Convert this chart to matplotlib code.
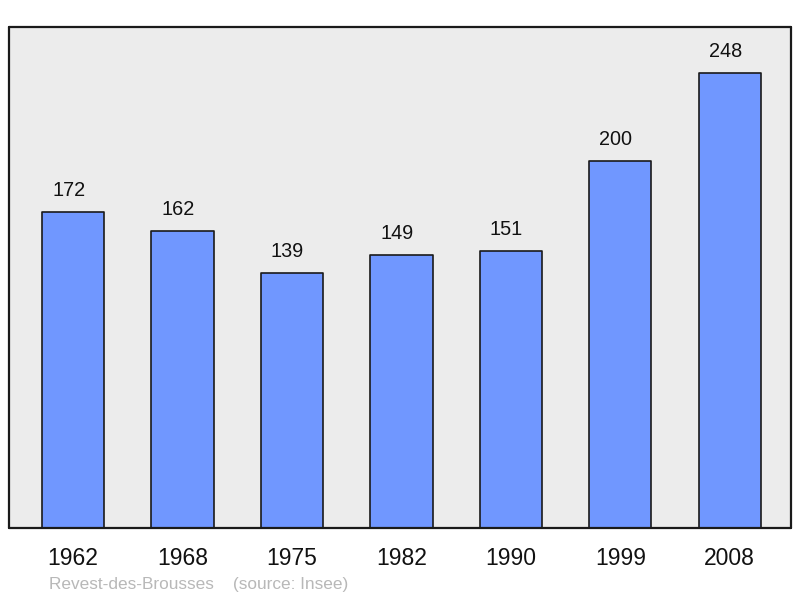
import matplotlib.pyplot as plt

years = ["1962", "1968", "1975", "1982", "1990", "1999", "2008"]
population = [172, 162, 139, 149, 151, 200, 248]
commune = "Revest-des-Brousses"
source = "(source: Insee)"

plt.rcParams["font.family"] = ["Liberation Sans", "DejaVu Sans"]

fig = plt.figure(figsize=(8, 5.98), dpi=100)
ax = fig.add_axes([9 / 800, 1 - 528 / 598, 782 / 800, 501 / 598])
ax.set_facecolor("#ececec")

x = range(len(years))
bars = ax.bar(x, population, width=0.57, color="#7097ff", edgecolor="#1a1a1a",
              linewidth=1.2, joinstyle="round", zorder=2)

for xi, v in zip(x, population):
    ax.annotate(str(v), (xi, v), xytext=(-3.2, 15.5), textcoords="offset points",
                ha="center", va="center", fontsize=14.3, color="#111111")

ax.set_xlim(-0.585, 6.56)
ax.set_ylim(0, 273)
ax.set_xticks(list(x))
ax.set_xticklabels(years, fontsize=16.5, color="#111111")
ax.tick_params(axis="x", length=0, pad=14)
ax.set_yticks([])
for s in ax.spines.values():
    s.set_linewidth(1.6)
    s.set_color("#1a1a1a")
    s.set_capstyle("round")

fig.text(49 / 800, 1 - 584 / 598, commune + "    " + source, fontsize=12.4,
         color="#b8b8b8", ha="left", va="center")

fig.savefig("out.png", dpi=100)
plt.close()
